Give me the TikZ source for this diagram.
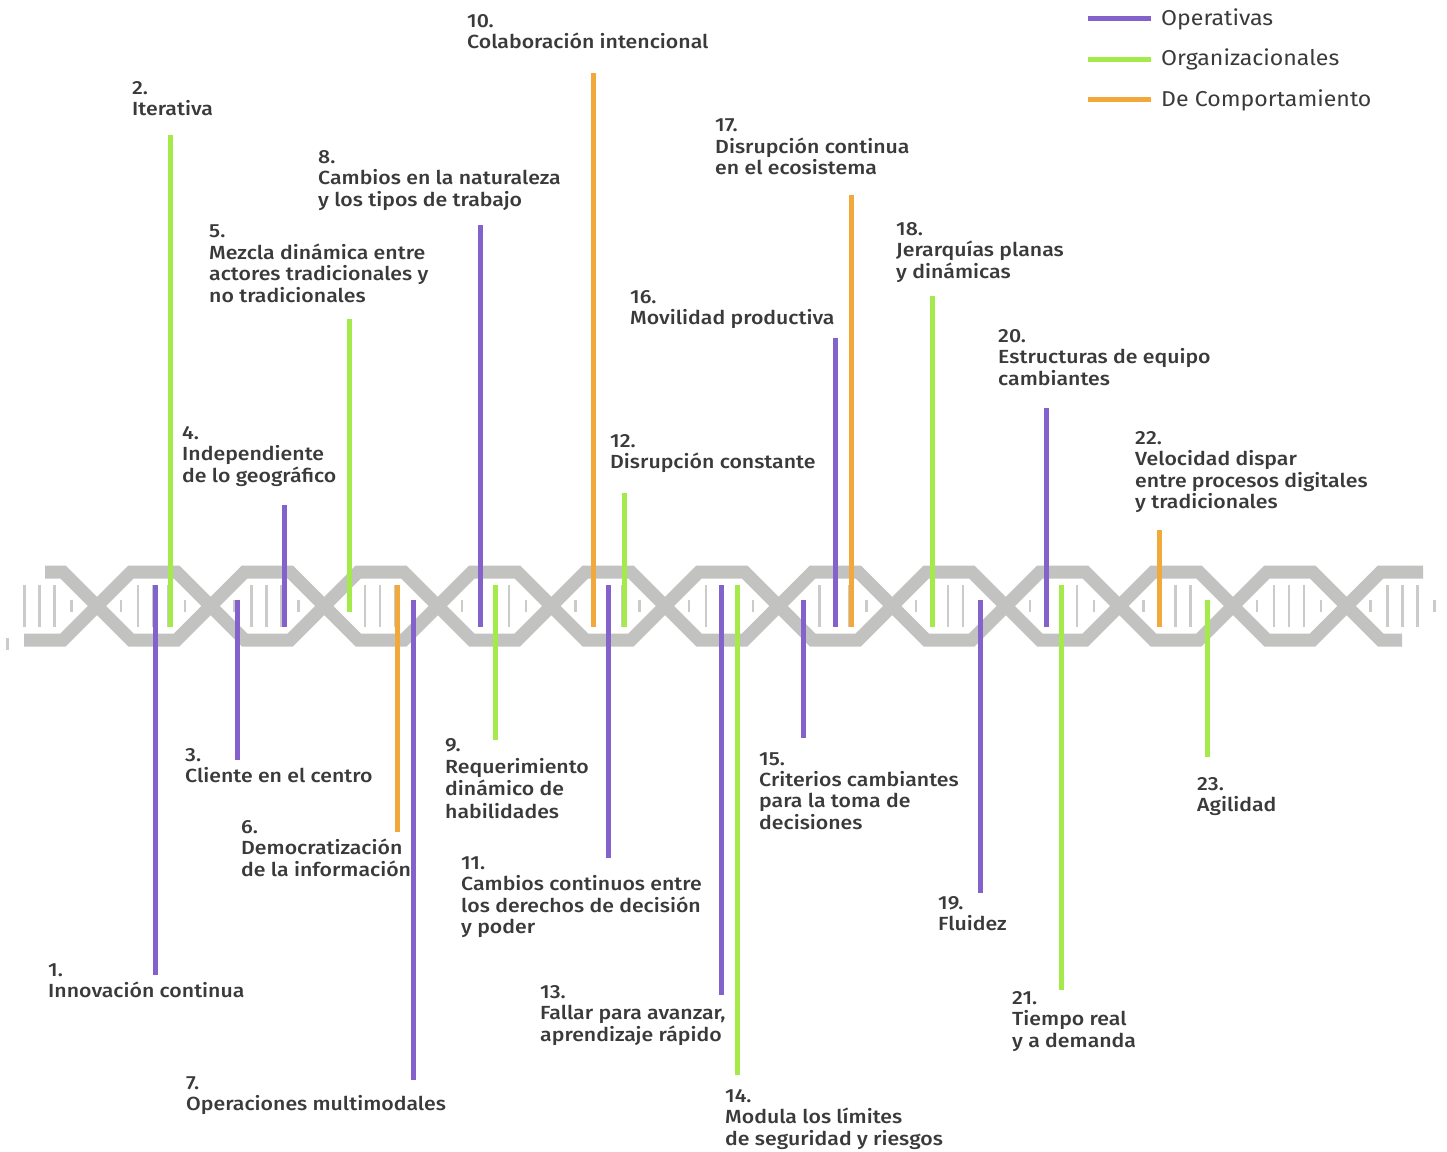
\documentclass[tikz,border=0pt]{standalone}
\usepackage{fontspec}
\setmainfont{Fira Sans}[FakeStretch=1.075]
\newfontfamily\labfont{Fira Sans Medium}[FakeStretch=1.12]
\usepackage{xcolor}

\definecolor{opcol}{HTML}{8462CC}
\definecolor{orgcol}{HTML}{A3EA4A}
\definecolor{behcol}{HTML}{F2A93B}
\definecolor{helixgray}{HTML}{C2C2C0}
\definecolor{txtgray}{HTML}{3A3A3A}

\begin{document}
\begin{tikzpicture}[x=1pt, y=-1pt,
  strand/.style={line width=13pt, helixgray, line join=miter},
  rung/.style={line width=2.5pt, helixgray!85},
  bar/.style={line width=5pt},
  op/.style={bar, opcol},
  org/.style={bar, orgcol},
  beh/.style={bar, behcol},
  lbl/.style={anchor=north west, inner sep=0pt, align=left, text=txtgray, font=\labfont\fontsize{19}{21.5}\selectfont},
  key/.style={anchor=base west, inner sep=0pt, text=txtgray, font=\fontsize{21.5}{24}\selectfont}
]
\useasboundingbox (0,0) rectangle (1447,1151);

% helix strands
\draw[strand] (45,572) \foreach \k in {0,...,11} { -- ({63+113.6*\k},{572+68*(\k-2*floor(\k/2))}) -- ({131+113.6*\k},{640-68*(\k-2*floor(\k/2))}) } -- (1423,572);
\draw[strand] (24,640) \foreach \k in {0,...,11} { -- ({63+113.6*\k},{640-68*(\k-2*floor(\k/2))}) -- ({131+113.6*\k},{572+68*(\k-2*floor(\k/2))}) } -- (1402,640);

% rungs
\foreach \k in {-1,...,11} {
  \foreach \d in {43,58,73} \draw[rung] ({95+113.6*\k+\d},585) -- ++(0,42);
  \draw[rung] ({185+113.6*\k},600) -- ++(0,12);
}
\foreach \k in {0,...,11} \draw[rung] ({121+113.6*\k},600) -- ++(0,12);
\draw[rung] (7.5,638) -- ++(0,12);

% labels
\node[lbl] (l1) at (48,963) {1.\\Innovación continua};
\node[lbl] (l2) at (132,81) {2.\\Iterativa};
\node[lbl] (l3) at (185,748) {3.\\Cliente en el centro};
\node[lbl] (l4) at (182,426) {4.\\Independiente\\de lo geográfico};
\node[lbl] (l5) at (209,225) {5.\\Mezcla dinámica entre\\actores tradicionales y\\no tradicionales};
\node[lbl] (l6) at (241,820) {6.\\Democratización\\de la información};
\node[lbl] (l7) at (186,1076) {7.\\Operaciones multimodales};
\node[lbl] (l8) at (318,150) {8.\\Cambios en la naturaleza\\y los tipos de trabajo};
\node[lbl, font=\labfont\fontsize{19}{22.3}\selectfont] (l9) at (445,738) {9.\\Requerimiento\\dinámico de\\habilidades};
\node[lbl] (l10) at (467,14) {10.\\Colaboración intencional};
\node[lbl] (l11) at (461,856) {11.\\Cambios continuos entre\\los derechos de decisión\\y poder};
\node[lbl] (l12) at (610,434) {12.\\Disrupción constante};
\node[lbl] (l13) at (540,985) {13.\\Fallar para avanzar,\\aprendizaje rápido};
\node[lbl] (l14) at (725,1089) {14.\\Modula los límites\\de seguridad y riesgos};
\node[lbl] (l15) at (759,752) {15.\\Criterios cambiantes\\para la toma de\\decisiones};
\node[lbl] (l16) at (630,290) {16.\\Movilidad productiva};
\node[lbl] (l17) at (715,119) {17.\\Disrupción continua\\en el ecosistema};
\node[lbl] (l18) at (896,222) {18.\\Jerarquías planas\\y dinámicas};
\node[lbl] (l19) at (938,896) {19.\\Fluidez};
\node[lbl] (l20) at (998,329) {20.\\Estructuras de equipo\\cambiantes};
\node[lbl] (l21) at (1012,991) {21.\\Tiempo real\\y a demanda};
\node[lbl] (l22) at (1135,431) {22.\\Velocidad dispar\\entre procesos digitales\\y tradicionales};
\node[lbl] (l23) at (1197,777) {23.\\Agilidad};

% bars
\draw[op]  (155,585) coordinate (h1) -- (155,975) coordinate (e1);
\draw[org] (170,627) coordinate (h2) -- (170,135) coordinate (e2);
\draw[op]  (237,600) coordinate (h3) -- (237,760) coordinate (e3);
\draw[op]  (284,627) coordinate (h4) -- (284,505) coordinate (e4);
\draw[org] (349,612) coordinate (h5) -- (349,319) coordinate (e5);
\draw[beh] (397,585) coordinate (h6) -- (397,832) coordinate (e6);
\draw[op]  (413,600) coordinate (h7) -- (413,1080) coordinate (e7);
\draw[op]  (480,627) coordinate (h8) -- (480,225) coordinate (e8);
\draw[org] (495,585) coordinate (h9) -- (495,740) coordinate (e9);
\draw[beh] (593,627) coordinate (h10) -- (593,73) coordinate (e10);
\draw[op]  (608,585) coordinate (h11) -- (608,858) coordinate (e11);
\draw[org] (624,627) coordinate (h12) -- (624,493) coordinate (e12);
\draw[op]  (721,585) coordinate (h13) -- (721,995) coordinate (e13);
\draw[org] (737,585) coordinate (h14) -- (737,1075) coordinate (e14);
\draw[op]  (803,600) coordinate (h15) -- (803,738) coordinate (e15);
\draw[op]  (835,627) coordinate (h16) -- (835,338) coordinate (e16);
\draw[beh] (851,627) coordinate (h17) -- (851,195) coordinate (e17);
\draw[org] (932,627) coordinate (h18) -- (932,296) coordinate (e18);
\draw[op]  (980,600) coordinate (h19) -- (980,893) coordinate (e19);
\draw[op]  (1046,627) coordinate (h20) -- (1046,408) coordinate (e20);
\draw[org] (1061,585) coordinate (h21) -- (1061,990) coordinate (e21);
\draw[beh] (1159,627) coordinate (h22) -- (1159,530) coordinate (e22);
\draw[org] (1207,600) coordinate (h23) -- (1207,757) coordinate (e23);

% legend
\node[key] (kop) at (1161,25) {Operativas};
\node[key] (korg) at (1161,65) {Organizacionales};
\node[key] (kbeh) at (1161,106) {De Comportamiento};
\draw[op]  (1088,18) coordinate (sop) -- (1151,18);
\draw[org] (1088,59) coordinate (sorg) -- (1151,59);
\draw[beh] (1088,99) coordinate (sbeh) -- (1151,99);
\end{tikzpicture}
\end{document}
